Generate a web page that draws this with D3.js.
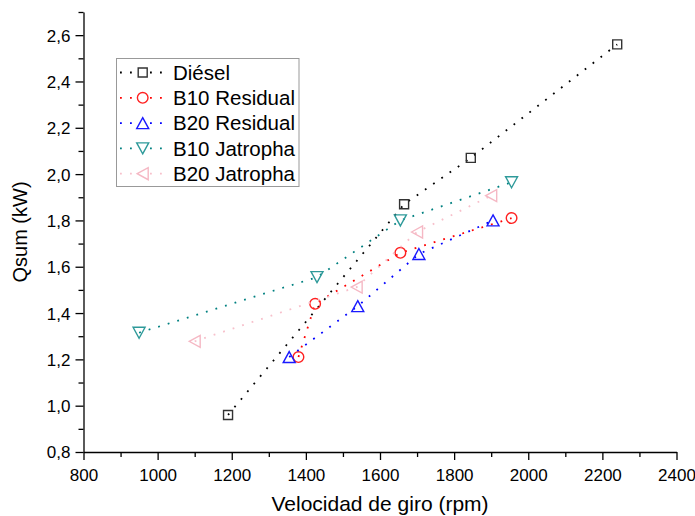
<!DOCTYPE html>
<html>
<head>
<meta charset="utf-8">
<script src="https://cdn.jsdelivr.net/npm/d3@7/dist/d3.min.js"></script>
<style>
  html, body { margin: 0; padding: 0; background: #fff; }
  svg { display: block; font-family: "Liberation Sans", Arial, sans-serif; }
</style>
</head>
<body>
<svg id="chart" width="695" height="516"></svg>
<script>
// ---- Data ----
const seriesNames = ["Diésel", "B10 Residual", "B20 Residual", "B10 Jatropha", "B20 Jatropha"];
const seriesColors = ["#333333", "#ff2020", "#1a1aff", "#2e9a9a", "#f5b8c4"];
const lineColors = ["#000000", "#ff0000", "#0000ff", "#008080", "#f7c0cb"];
const seriesShapes = ["square", "circle", "triUp", "triDown", "triLeft"];

const dieselX = [1190, 1665, 1845, 2240];
const dieselY = [0.96, 1.87, 2.07, 2.56];
const b10ResX = [1380, 1425, 1655, 1955];
const b10ResY = [1.21, 1.44, 1.66, 1.81];
const b20ResX = [1355, 1540, 1705, 1905];
const b20ResY = [1.21, 1.43, 1.655, 1.80];
const b10JatX = [950, 1430, 1655, 1955];
const b10JatY = [1.315, 1.555, 1.80, 1.965];
const b20JatX = [1100, 1537, 1700, 1900];
const b20JatY = [1.278, 1.512, 1.75, 1.907];

const xTicks = [800, 1000, 1200, 1400, 1600, 1800, 2000, 2200, 2400];
const xMinor = [900, 1100, 1300, 1500, 1700, 1900, 2100, 2300];
const yTicks = [0.8, 1.0, 1.2, 1.4, 1.6, 1.8, 2.0, 2.2, 2.4, 2.6];
const yMinor = [0.9, 1.1, 1.3, 1.5, 1.7, 1.9, 2.1, 2.3, 2.5, 2.7];

const xTitle = "Velocidad de giro (rpm)";
const yTitle = "Qsum (kW)";

const seriesX = [dieselX, b10ResX, b20ResX, b10JatX, b20JatX];
const seriesY = [dieselY, b10ResY, b20ResY, b10JatY, b20JatY];

// ---- Layout ----
const svg = d3.select("#chart");
const mLeft = 83.5, mRight = 676.5, mTop = 12, mBottom = 452;

const x = d3.scaleLinear().domain([800, 2400]).range([mLeft, mRight]);
const y = d3.scaleLinear().domain([0.8, 2.7]).range([mBottom, mTop]);

const fmtY = v => d3.format(".1f")(v).replace(".", ",");

// Axes
const xAxis = svg.append("g").attr("transform", `translate(0,${mBottom})`)
  .call(d3.axisBottom(x).tickValues(xTicks).tickSize(8).tickSizeOuter(0).tickFormat(d3.format("d")));
svg.append("g").attr("transform", `translate(0,${mBottom})`)
  .call(d3.axisBottom(x).tickValues(xMinor).tickSize(5).tickSizeOuter(0).tickFormat(""))
  .select(".domain").remove();
const yAxis = svg.append("g").attr("transform", `translate(${mLeft},0)`)
  .call(d3.axisLeft(y).tickValues(yTicks).tickSize(8).tickSizeOuter(0).tickFormat(fmtY));
svg.append("g").attr("transform", `translate(${mLeft},0)`)
  .call(d3.axisLeft(y).tickValues(yMinor).tickSize(5).tickSizeOuter(0).tickFormat(""))
  .select(".domain").remove();

svg.selectAll(".domain").attr("stroke", "#000").attr("stroke-width", 1.3);
svg.selectAll(".tick line").attr("stroke", "#000").attr("stroke-width", 1.3);
xAxis.selectAll(".tick text").attr("font-size", 17).attr("font-family", "Liberation Sans, Arial, sans-serif")
  .attr("fill", "#000").attr("dy", null).attr("y", 29);
yAxis.selectAll(".tick text").attr("font-size", 17).attr("font-family", "Liberation Sans, Arial, sans-serif")
  .attr("fill", "#000").attr("x", -13).attr("dy", "0.35em");

// Titles
svg.append("text").attr("x", (mLeft + mRight) / 2).attr("y", 511)
  .attr("text-anchor", "middle").attr("font-size", 21).attr("fill", "#000").text(xTitle);
svg.append("text").attr("transform", `translate(27,${(mTop + mBottom) / 2}) rotate(-90)`)
  .attr("text-anchor", "middle").attr("font-size", 20).attr("fill", "#000").text(yTitle);

// Marker path builders
function markerPath(shape) {
  switch (shape) {
    case "square": return "M-4.5,-4.5H4.5V4.5H-4.5Z";
    case "circle": return "M5.3,0A5.3,5.3 0 1,1 -5.3,0A5.3,5.3 0 1,1 5.3,0Z";
    case "triUp": return "M0,-5.5L6,5.5L-6,5.5Z";
    case "triDown": return "M0,5.5L6,-5.5L-6,-5.5Z";
    case "triLeft": return "M-5.5,0L5.5,-6L5.5,6Z";
  }
}

const line = d3.line().x(d => x(d[0])).y(d => y(d[1]));
const dash = "1.8,8.2";

seriesNames.forEach((name, i) => {
  const pts = seriesX[i].map((v, j) => [v, seriesY[i][j]]);
  const g = svg.append("g");
  g.append("path").datum(pts).attr("d", line)
    .attr("fill", "none").attr("stroke", lineColors[i]).attr("stroke-width", 1.8)
    .attr("stroke-dasharray", dash).attr("stroke-linecap", "butt");
  g.selectAll("path.m").data(pts).join("path").attr("class", "m")
    .attr("transform", d => `translate(${x(d[0])},${y(d[1])})`)
    .attr("d", markerPath(seriesShapes[i]))
    .attr("fill", "none").attr("stroke", seriesColors[i]).attr("stroke-width", 1.4);
});

// Legend
const lg = svg.append("g");
lg.append("rect").attr("x", 116.5).attr("y", 58.5).attr("width", 182.5).attr("height", 128)
  .attr("fill", "#fff").attr("stroke", "#999").attr("stroke-width", 1);
seriesNames.forEach((name, i) => {
  const cy = 72.5 + i * 25.3;
  lg.append("line").attr("x1", 120).attr("x2", 167).attr("y1", cy).attr("y2", cy)
    .attr("stroke", lineColors[i]).attr("stroke-width", 1.8).attr("stroke-dasharray", dash);
  lg.append("path").attr("transform", `translate(142.7,${cy})`).attr("d", markerPath(seriesShapes[i]))
    .attr("fill", "#fff").attr("stroke", seriesColors[i]).attr("stroke-width", 1.4);
  lg.append("text").attr("x", 173).attr("y", cy).attr("dy", "0.35em")
    .attr("font-size", 20.5).attr("fill", "#000").text(name);
});
</script>
</body>
</html>
